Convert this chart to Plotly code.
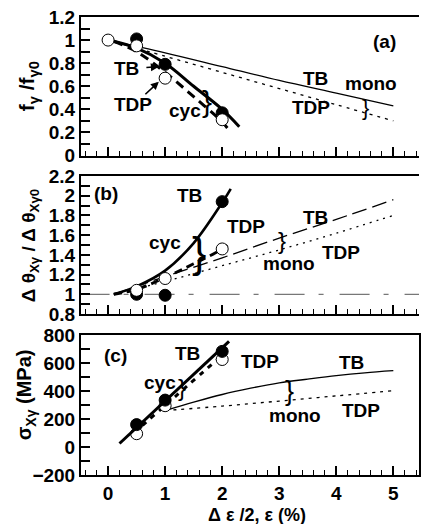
import plotly.graph_objects as go

# ---------------- data ----------------
# panel (a): f_gamma / f_gamma0
a_open_x = [0, 0.5, 1, 2]
a_open_y = [1.0, 0.95, 0.67, 0.31]
a_fill_x = [0.5, 1, 2]
a_fill_y = [1.01, 0.79, 0.37]
a_cycTB_x = [0, 0.5, 1, 1.5, 2, 2.3]
a_cycTB_y = [1.0, 0.93, 0.8, 0.6, 0.4, 0.25]
a_cycTDP_x = [0.1, 0.5, 1, 1.5, 2, 2.15]
a_cycTDP_y = [0.99, 0.9, 0.72, 0.51, 0.29, 0.2]
a_monoTB_x = [0, 1, 2, 3, 4, 5]
a_monoTB_y = [1.0, 0.89, 0.77, 0.65, 0.54, 0.43]
a_monoTDP_x = [0, 1, 2, 3, 4, 5]
a_monoTDP_y = [1.0, 0.86, 0.72, 0.58, 0.44, 0.3]

# panel (b): d theta ratio
b_open_x = [0.5, 1, 2]
b_open_y = [1.04, 1.16, 1.46]
b_fill_x = [0.5, 1, 2]
b_fill_y = [1.0, 0.99, 1.94]
b_cycTB_x = [0.1, 0.5, 1, 1.5, 2, 2.15]
b_cycTB_y = [1.0, 1.08, 1.24, 1.52, 1.93, 2.07]
b_cycTDP_x = [0.1, 0.5, 1, 1.5, 2, 2.15]
b_cycTDP_y = [1.0, 1.05, 1.17, 1.31, 1.46, 1.53]
b_monoTB_x = [0.1, 1, 2, 3, 4, 5]
b_monoTB_y = [1.0, 1.18, 1.37, 1.57, 1.76, 1.96]
b_monoTDP_x = [0.1, 1, 2, 3, 4, 5]
b_monoTDP_y = [1.0, 1.13, 1.29, 1.45, 1.62, 1.8]
b_base_x = [-0.5, 5.5]
b_base_y = [1.0, 1.0]

# panel (c): sigma (MPa)
c_open_x = [0.5, 1, 2]
c_open_y = [95, 295, 625]
c_fill_x = [0.5, 1, 2]
c_fill_y = [160, 335, 683]
c_cycTB_x = [0.2, 2.12]
c_cycTB_y = [25, 755]
c_cycTDP_x = [0.45, 1.0, 1.9]
c_cycTDP_y = [100, 297, 620]
c_monoTB_x = [1, 1.5, 2, 2.5, 3, 3.5, 4, 4.5, 5]
c_monoTB_y = [260, 320, 375, 420, 458, 485, 510, 530, 545]
c_monoTDP_x = [1, 2, 3, 4, 5]
c_monoTDP_y = [260, 292, 328, 365, 402]

FONT = "Liberation Sans Narrow, Arial Narrow, Liberation Sans, Arial, sans-serif"
BLACK = "black"

fig = go.Figure()

def line(x, y, xa, ya, width, dash="solid", color=BLACK, shape="spline"):
    fig.add_trace(go.Scatter(x=x, y=y, xaxis=xa, yaxis=ya, mode="lines",
                             line=dict(color=color, width=width, dash=dash, shape=shape),
                             hoverinfo="skip", showlegend=False))

def pts(x, y, xa, ya, filled):
    fig.add_trace(go.Scatter(x=x, y=y, xaxis=xa, yaxis=ya, mode="markers",
                             marker=dict(size=12, color=BLACK if filled else "white",
                                         line=dict(color=BLACK, width=1)),
                             hoverinfo="skip", showlegend=False))

# (a)
line(a_monoTB_x, a_monoTB_y, "x", "y", 1.3)
line(a_monoTDP_x, a_monoTDP_y, "x", "y", 1.3, "3px,5px")
line(a_cycTDP_x, a_cycTDP_y, "x", "y", 3, "9px,6px")
line(a_cycTB_x, a_cycTB_y, "x", "y", 3)
pts(a_fill_x, a_fill_y, "x", "y", True)
pts(a_open_x, a_open_y, "x", "y", False)

# (b)
line(b_base_x, b_base_y, "x2", "y2", 1.2, "30px,14px,5px,16px", "#777", "linear")
line(b_monoTB_x, b_monoTB_y, "x2", "y2", 1.3, "15px,6px")
line(b_monoTDP_x, b_monoTDP_y, "x2", "y2", 1.3, "2px,5px")
line(b_cycTDP_x, b_cycTDP_y, "x2", "y2", 3, "8px,5px")
line(b_cycTB_x, b_cycTB_y, "x2", "y2", 2.6)
pts(b_fill_x, b_fill_y, "x2", "y2", True)
pts(b_open_x, b_open_y, "x2", "y2", False)

# (c)
line(c_monoTB_x, c_monoTB_y, "x3", "y3", 1.3)
line(c_monoTDP_x, c_monoTDP_y, "x3", "y3", 1.3, "3px,5px")
line(c_cycTDP_x, c_cycTDP_y, "x3", "y3", 3, "5px,6px")
pts(c_open_x, c_open_y, "x3", "y3", False)
pts(c_fill_x, c_fill_y, "x3", "y3", True)
line(c_cycTB_x, c_cycTB_y, "x3", "y3", 3, shape="linear")

W, H = 422, 524
ML, MR, MT, MB = 81, 1, 17, 49
ph = H - MT - MB

def py(p):
    return (H - MB - p) / ph

xr = [-0.475, 5.45]
tickf = dict(family=FONT, size=19, color=BLACK, weight="bold")

def xax(domain_anchor, labels):
    return dict(range=xr, anchor=domain_anchor, showline=True, linewidth=2, linecolor=BLACK,
                mirror=True, ticks="inside", ticklen=9, tickwidth=1.5, tickcolor=BLACK,
                dtick=1, tick0=0, showgrid=False, zeroline=False,
                showticklabels=labels, tickfont=tickf,
                minor=dict(ticks="inside", ticklen=5, tickwidth=1.3, dtick=0.2, tick0=0,
                           tickcolor=BLACK, showgrid=False))

def yax(rng, dom, dtick, mdtick, anchor, mirror=False):
    return dict(range=rng, domain=dom, anchor=anchor, showline=True, linewidth=2,
                linecolor=BLACK, mirror=mirror, ticks="inside", ticklen=9, tickwidth=1.5,
                tickcolor=BLACK, dtick=dtick, showgrid=False, zeroline=False,
                tickfont=tickf,
                minor=dict(ticks="inside", ticklen=9, tickwidth=1.5, dtick=mdtick,
                           tickcolor=BLACK, showgrid=False))

fig.update_layout(
    width=W, height=H, margin=dict(l=ML, r=MR, t=MT, b=MB, pad=0),
    paper_bgcolor="white", plot_bgcolor="white",
    font=dict(family=FONT, size=19, color=BLACK, weight="bold"),
    showlegend=False,
    xaxis=xax("y", False), xaxis2=xax("y2", False), xaxis3=xax("y3", True),
    yaxis=yax([0, 1.2], [py(155.5), 1.0], 0.2, 0.1, "x"),
    yaxis2=yax([0.8, 2.2], [py(314), py(176)], 0.2, 0.1, "x2"),
    yaxis3=yax([-200, 800], [0, py(335)], 200, 100, "x3", mirror=True),
)

ann = []
def txt(x, y, s, xa, ya, size=19, weight="bold"):
    ann.append(dict(x=x, y=y, xref=xa, yref=ya, text=s, showarrow=False,
                    font=dict(family=FONT, size=size, color=BLACK, weight=weight),
                    xanchor="center", yanchor="middle"))

def brace(x, y, xa, ya, h):
    ann.append(dict(x=x, y=y, xref=xa, yref=ya, text="}", showarrow=False,
                    font=dict(family="Liberation Sans, Arial", size=h, color=BLACK, weight="normal"),
                    xanchor="center", yanchor="middle"))

# (a)
txt(4.84, 0.99, "(a)", "x", "y")
txt(3.64, 0.67, "TB", "x", "y")
txt(4.61, 0.62, "mono", "x", "y")
txt(3.55, 0.42, "TDP", "x", "y")
brace(4.51, 0.42, "x", "y", 22)
txt(0.32, 0.755, "TB", "x", "y")
txt(0.43, 0.44, "TDP", "x", "y")
txt(1.34, 0.39, "cyc", "x", "y")
brace(1.74, 0.47, "x", "y", 30)
ann.append(dict(x=0.89, y=0.77, xref="x", yref="y", ax=-14, ay=1, text="", showarrow=True,
                arrowhead=2, arrowsize=1, arrowwidth=1.6, arrowcolor=BLACK))
ann.append(dict(x=0.89, y=0.64, xref="x", yref="y", ax=-15, ay=14, text="", showarrow=True,
                arrowhead=2, arrowsize=1, arrowwidth=1.6, arrowcolor=BLACK))

# (b)
txt(-0.04, 2.02, "(b)", "x2", "y2")
txt(1.42, 2.0, "TB", "x2", "y2")
txt(2.41, 1.685, "TDP", "x2", "y2")
txt(1.0, 1.53, "cyc", "x2", "y2")
brace(1.6, 1.43, "x2", "y2", 43)
txt(3.63, 1.78, "TB", "x2", "y2")
txt(4.09, 1.42, "TDP", "x2", "y2")
txt(3.17, 1.31, "mono", "x2", "y2")
brace(3.04, 1.55, "x2", "y2", 24)

# (c)
txt(0.13, 655, "(c)", "x3", "y3")
txt(1.39, 666, "TB", "x3", "y3")
txt(2.67, 613, "TDP", "x3", "y3")
txt(0.91, 460, "cyc", "x3", "y3")
brace(1.29, 424, "x3", "y3", 24)
txt(4.27, 607, "TB", "x3", "y3")
txt(4.44, 259, "TDP", "x3", "y3")
txt(3.28, 222, "mono", "x3", "y3")
brace(3.18, 402, "x3", "y3", 27)

# axis titles
def px_to_paper_x(p):
    return (p - ML) / (W - ML - MR)

ann.append(dict(x=px_to_paper_x(28), y=py(86), xref="paper", yref="paper", textangle=-90,
                text="f<sub>γ</sub> /f<sub>γ0</sub>", showarrow=False,
                font=dict(family=FONT, size=21, color=BLACK, weight="bold"),
                xanchor="center", yanchor="middle"))
ann.append(dict(x=px_to_paper_x(30), y=py(245), xref="paper", yref="paper", textangle=-90,
                text="Δ θ<sub>Xγ</sub> / Δ θ<sub>Xγ0</sub>", showarrow=False,
                font=dict(family=FONT, size=19, color=BLACK, weight="bold"),
                xanchor="center", yanchor="middle"))
ann.append(dict(x=px_to_paper_x(25), y=py(395), xref="paper", yref="paper", textangle=-90,
                text="σ<sub>Xγ</sub> (MPa)", showarrow=False,
                font=dict(family=FONT, size=20, color=BLACK, weight="bold"),
                xanchor="center", yanchor="middle"))
ann.append(dict(x=px_to_paper_x(258), y=py(514.5), xref="paper", yref="paper",
                text="Δ ε /2, ε (%)", showarrow=False,
                font=dict(family=FONT, size=18, color=BLACK, weight="bold"),
                xanchor="center", yanchor="middle"))

fig.update_layout(annotations=ann)
fig.write_html("out.html")
